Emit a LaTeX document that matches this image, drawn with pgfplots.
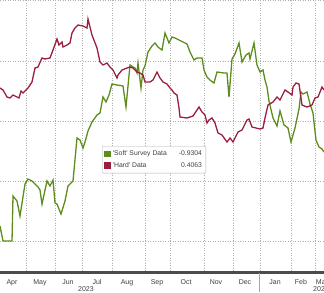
\documentclass[border=0pt]{standalone}
\usepackage{pgfplots}
\pgfplotsset{compat=1.18}
\usepackage{fontspec}
\setmainfont{Liberation Sans}[Ligatures=TeXOff]
\definecolor{softg}{HTML}{5E8C1E}
\definecolor{hardr}{HTML}{9A1F3F}
\definecolor{gridc}{HTML}{B0B0B0}
\definecolor{txt}{HTML}{404040}
\begin{document}
\begin{tikzpicture}[x=1pt,y=1pt]
\begin{axis}[
  at={(0,0)}, anchor=south west,
  scale only axis, width=324pt, height=272pt,
  xmin=0, xmax=324, ymin=0, ymax=272, y dir=reverse,
  clip=false,
  axis line style={draw=none},
  xtick={12,40,68,97,127,157,186,216,245,275,301,322},
  xticklabels={Apr,May,Jun,Jul,Aug,Sep,Oct,Nov,Dec,Jan,Feb,Mar},
  minor xtick={26,55,82,112,145,170,204,233,260,291,315},
  xminorgrids, xmajorgrids=false,
  ytick={0.5,61,121,181,241}, yticklabels={},
  ymajorgrids,
  major tick length=0, minor tick length=0,
  grid style={gridc, line width=0.6pt, dash pattern=on 0.7pt off 1.8pt},
  minor grid style={gridc, line width=0.6pt, dash pattern=on 0.7pt off 1.8pt},
  xticklabel style={font=\fontsize{7}{8}\selectfont, text=txt, anchor=base, yshift=-12pt},
  legend style={at={(axis cs:102,146)}, anchor=north west, draw=gray!60, fill=white,
    rounded corners=1pt, font=\fontsize{6.8}{8}\selectfont, text=txt,
    inner xsep=2pt, inner ysep=2.5pt, row sep=1pt, cells={anchor=west}},
  legend image code/.code={\fill[#1, sharp corners] (0pt,-2.7pt) rectangle (5.4pt,2.7pt);},
]
\addplot[color=softg, line width=1.3pt] coordinates {
(0,226)(3,241)(12,241)(13,196)(17,201)(20,216)(25,184)(28,179)(32,181)(38,187)(40,190)(42,204)(47,181)(50,186)(53,180)(55,203)(57,204)(61,214)(65,201)(68,186)(73,181)(77,138)(80,140)(83,148)(85,142)(88,131)(92,122)(97,115)(100,113)(103,97)(106,102)(109,95)(112,84)(117,85)(123,86)(126,107)(130,65)(133,67)(135,68)(137,73)(138,63)(141,88)(143,70)(145,66)(148,52)(152,46)(155,43)(158,47)(162,50)(165,33)(169,43)(172,37)(175,38)(183,42)(187,44)(190,52)(194,60)(197,58)(202,58)(204,70)(207,77)(210,80)(214,83)(217,72)(224,73)(227,73)(229,97)(232,59)(235,54)(239,43)(242,62)(246,55)(249,53)(250,59)(254,43)(257,65)(260,72)(263,70)(265,80)(267,87)(269,101)(273,118)(277,126)(280,111)(284,125)(288,128)(291,142)(295,128)(299,109)(301,92)(303,94)(307,92)(310,104)(313,113)(316,140)(319,147)(322,149)(324,152)
};
\addlegendentry{\makebox[58pt][l]{'Soft' Survey Data}\makebox[31pt][r]{-0.9304}}
\addplot[color=hardr, line width=1.3pt] coordinates {
(0,88)(3,90)(7,97)(10,98)(13,95)(17,97)(19,98)(21,91)(23,93)(28,88)(32,82)(35,68)(38,67)(42,58)(45,59)(50,58)(53,50)(57,39)(59,45)(62,42)(63,47)(67,45)(70,43)(72,33)(75,28)(78,25)(83,26)(87,28)(88,19)(90,27)(92,35)(97,48)(100,62)(103,65)(107,63)(110,67)(113,70)(117,78)(118,75)(122,70)(127,68)(130,67)(133,68)(137,72)(140,73)(143,75)(145,82)(150,82)(153,80)(157,72)(160,78)(163,82)(167,84)(170,88)(172,90)(174,93)(177,95)(179,108)(180,117)(187,118)(193,116)(197,110)(199,107)(202,112)(205,115)(207,123)(209,120)(212,118)(215,123)(218,133)(222,135)(227,142)(230,138)(233,142)(238,132)(242,130)(247,120)(249,119)(252,127)(260,129)(263,128)(265,118)(268,105)(273,102)(277,97)(280,100)(285,90)(288,92)(292,95)(293,87)(296,83)(299,84)(302,105)(307,107)(312,105)(315,98)(318,97)(322,87)(324,90)
};
\addlegendentry{\makebox[58pt][l]{'Hard' Data}\makebox[31pt][r]{0.4063}}
\draw[color=black!70, line width=2.5pt] (axis cs:0,272.5) -- (axis cs:324,272.5);
\end{axis}
\draw[color=gray!70, line width=0.5pt] (259,-1) -- (259,-20);
\node[font=\fontsize{7}{8}\selectfont, text=txt, anchor=base] at (86,-19) {2023};
\node[font=\fontsize{7}{8}\selectfont, text=txt, anchor=base] at (321,-19) {2024};
\pgfresetboundingbox
\useasboundingbox (0,-20) rectangle (324,272);
\end{tikzpicture}
\end{document}
